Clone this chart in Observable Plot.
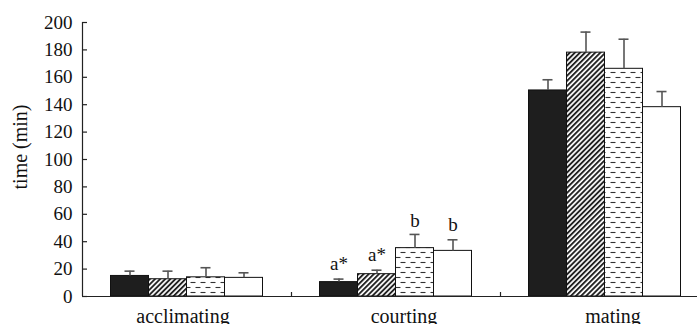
<!DOCTYPE html>
<html>
<head>
<meta charset="utf-8">
<script src="https://cdn.jsdelivr.net/npm/d3@7"></script>
<script src="https://cdn.jsdelivr.net/npm/@observablehq/plot@0.6"></script>
<style>
  html, body { margin: 0; padding: 0; background: #fff; }
  #chart svg { display: block; }
  #chart svg text { font-family: "Liberation Serif", "Times New Roman", serif !important; }
</style>
</head>
<body>
<div id="chart"></div>
<script>
// ---- data ----
const categories = ["acclimating", "courting", "mating"];
const treatments = ["solid", "hatched", "dashed", "open"];
const means = {
  solid:   [15.0, 10.5, 150.4],
  hatched: [12.6, 16.3, 178.0],
  dashed:  [14.0, 35.3, 166.2],
  open:    [13.6, 33.3, 138.2]
};
const upper = {
  solid:   [18.5, 12.7, 158.2],
  hatched: [18.5, 19.2, 193.0],
  dashed:  [21.0, 45.3, 187.8],
  open:    [17.3, 41.4, 149.6]
};
const annotCategory = "courting";
const annotLabels = ["a*", "a*", "b", "b"];
const annotValues = [24, 30, 55.5, 52.5];
const yTicks = [0, 20, 40, 60, 80, 100, 120, 140, 160, 180, 200];

// ---- layout ----
const W = 697, H = 324;
const xRange = [82, 709];
const bw = (xRange[1] - xRange[0]) / categories.length;
const barW = 38;
const groupW = barW * treatments.length;
const lead = (bw - groupW) / 2;
const capW = 10;
const labelNudge = { acclimating: -4, courting: 8, mating: 8 };
const fills = {
  solid: "#1e1e1e",
  hatched: "url(#hatch)",
  dashed: "url(#dashes)",
  open: "#ffffff"
};
const font = "Liberation Serif";

const rows = treatments.flatMap(t => categories.map((c, j) => ({
  treatment: t, category: c, value: means[t][j], upper: upper[t][j]
})));

const marks = [];
treatments.forEach((t, i) => {
  const data = rows.filter(d => d.treatment === t);
  const inL = lead + barW * i;
  const inR = bw - inL - barW;
  const centerOff = -bw / 2 + inL + barW / 2;
  marks.push(Plot.barY(data, {
    x: "category", y: "value", fill: fills[t], stroke: "#111", strokeWidth: 1,
    insetLeft: inL, insetRight: inR
  }));
  marks.push(Plot.ruleX(data, {
    x: "category", y1: "value", y2: "upper", dx: centerOff,
    stroke: "#555", strokeWidth: 1.6
  }));
  marks.push(Plot.tickY(data, {
    x: "category", y: "upper", stroke: "#555", strokeWidth: 1.6,
    insetLeft: inL + (barW - capW) / 2, insetRight: inR + (barW - capW) / 2
  }));
  marks.push(Plot.text([{category: annotCategory, y: annotValues[i], label: annotLabels[i]}], {
    x: "category", y: "y", text: "label", dx: centerOff,
    fontSize: 19, fill: "#111"
  }));
});

const chart = Plot.plot({
  width: W, height: H,
  marginLeft: 82, marginRight: 0, marginTop: 22, marginBottom: 28,
  style: { fontFamily: font, background: "#fff", color: "#111" },
  x: { domain: categories, range: xRange, padding: 0, label: null },
  y: { domain: [0, 200], label: null },
  marks: [
    ...marks,
    Plot.ruleY([0], { stroke: "#222", strokeWidth: 1.2 }),
    Plot.ruleX(categories, { x: d => d, y1: 0, y2: 0, insetTop: -4, dx: bw / 2, stroke: "#222", strokeWidth: 1.2 }),
    Plot.axisY(yTicks, { tickSize: -5, tickPadding: 15, fontSize: 19, stroke: "#222", strokeWidth: 1.2, label: null }),
    Plot.ruleX([0], { x: () => categories[0], y1: 0, y2: 200, dx: -bw / 2, stroke: "#222", strokeWidth: 1.2 }),
    ...categories.map(c => Plot.axisX([c], { tickSize: 0, tickPadding: 12, fontSize: 20, dx: labelNudge[c], label: null })),
    Plot.text(["time (min)"], { frameAnchor: "left", textAnchor: "middle", dx: -62, dy: -12.5, rotate: -90, text: d => d, fontSize: 20, fill: "#111" })
  ]
});

// pattern definitions
const ns = "http://www.w3.org/2000/svg";
const defs = document.createElementNS(ns, "defs");
defs.innerHTML = `
  <pattern id="hatch" patternUnits="userSpaceOnUse" width="3.6" height="3.6" patternTransform="rotate(45)">
    <rect width="3.6" height="3.6" fill="#fff"/>
    <rect x="0" y="0" width="1.9" height="3.6" fill="#222"/>
  </pattern>
  <pattern id="dashes" patternUnits="userSpaceOnUse" width="10" height="10">
    <rect width="10" height="10" fill="#fff"/>
    <line x1="0.5" y1="2.5" x2="5.5" y2="2.5" stroke="#333" stroke-width="1.1"/>
    <line x1="5.5" y1="7.5" x2="10.5" y2="7.5" stroke="#333" stroke-width="1.1"/>
    <line x1="-4.5" y1="7.5" x2="0.5" y2="7.5" stroke="#333" stroke-width="1.1"/>
  </pattern>`;
chart.insertBefore(defs, chart.firstChild);
document.getElementById("chart").appendChild(chart);
</script>
</body>
</html>
